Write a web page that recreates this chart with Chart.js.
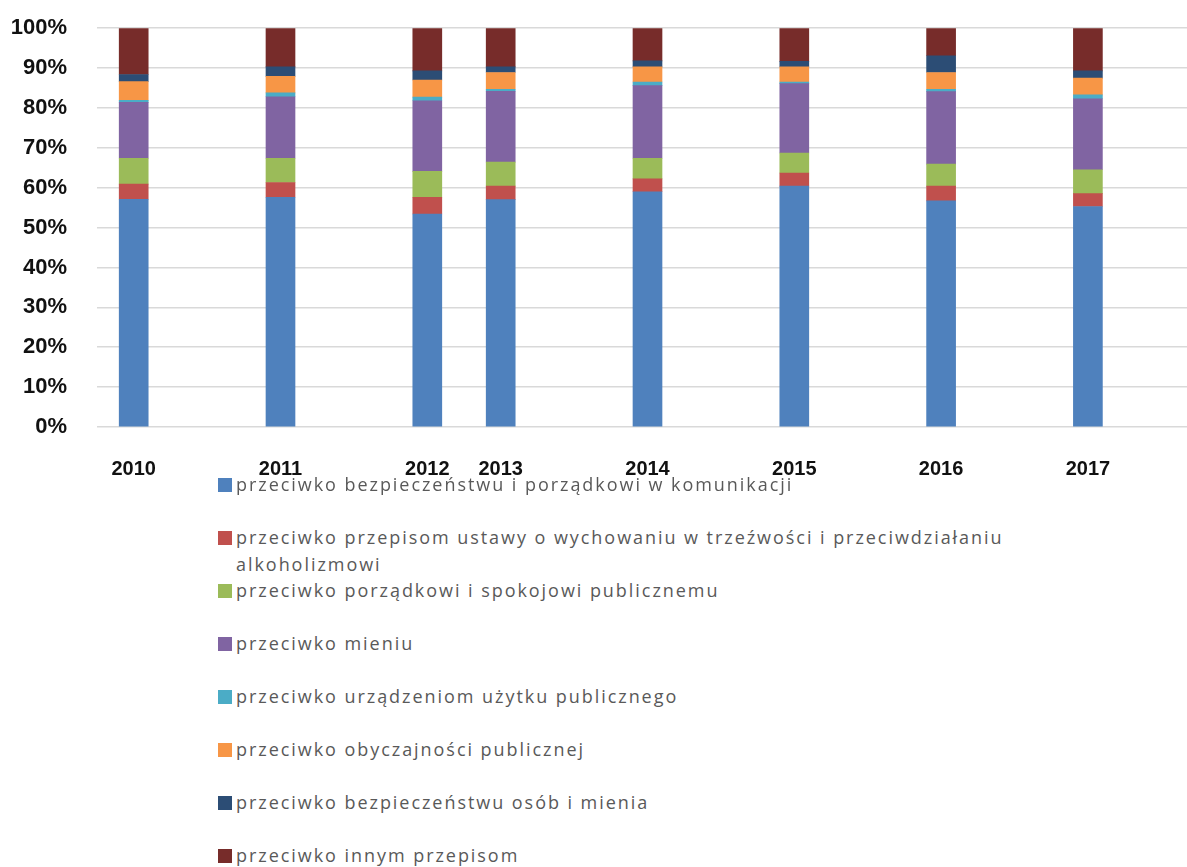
<!DOCTYPE html>
<html>
<head>
<meta charset="utf-8">
<script src="https://cdn.jsdelivr.net/npm/chart.js@4.4.1/dist/chart.umd.min.js"></script>
<style>
  html, body { margin: 0; padding: 0; background: #fff; overflow: hidden; }
  #wrap { position: relative; width: 1187px; height: 867px; overflow: hidden; }
  #box { position: absolute; left: 0; top: -15px; width: 1198px; height: 500px; }
  #legend { position: absolute; left: 0; top: 0; }
  .item { position: absolute; left: 218px; width: 820px; font-family: "Open Sans", sans-serif;
          font-size: 18px; line-height: 27px; color: #595959; letter-spacing: 1.95px; }
  .sw { position: absolute; left: 0; top: 7px; width: 14px; height: 14px; }
  .tx { margin-left: 18px; }
</style>
</head>
<body>
<div id="wrap">
  <div id="box"><canvas id="c"></canvas></div>
  <div id="legend"></div>
</div>
<script>
// tick labels on the x axis; empty ones are the gaps between years
var xLabels = ['2010', '', '2011', '', '2012', '2013', '', '2014', '', '2015', '', '2016', '', '2017', ''];

var seriesNames = [
    'przeciwko bezpieczeństwu i porządkowi w komunikacji',
    'przeciwko przepisom ustawy  o wychowaniu w trzeźwości i przeciwdziałaniu alkoholizmowi',
    'przeciwko porządkowi i spokojowi publicznemu',
    'przeciwko mieniu',
    'przeciwko urządzeniom użytku publicznego',
    'przeciwko obyczajności publicznej',
    'przeciwko bezpieczeństwu osób i mienia',
    'przeciwko innym przepisom'
];
var seriesColors = ['#4F81BD', '#C0504D', '#9BBB59', '#8064A2', '#4BACC6', '#F79646', '#2C4D75', '#772C2A'];

// percent shares, 2010..2017
var komunikacja = [57.1, 57.6, 53.4, 57.0, 59.0, 60.4, 56.7, 55.3];
var trzezwosc   = [3.8, 3.7, 4.2, 3.4, 3.2, 3.3, 3.7, 3.2];
var porzadek    = [6.5, 6.1, 6.5, 6.0, 5.2, 5.0, 5.5, 6.0];
var mienie      = [14.0, 15.4, 17.7, 17.8, 18.2, 17.4, 18.2, 17.8];
var urzadzenia  = [0.5, 1.0, 0.9, 0.5, 0.9, 0.4, 0.6, 1.0];
var obyczajnosc = [4.7, 4.1, 4.3, 4.2, 3.8, 3.8, 4.2, 4.2];
var osobyMienie = [1.8, 2.4, 2.3, 1.4, 1.5, 1.4, 4.2, 1.8];
var inne        = [11.6, 9.7, 10.7, 9.7, 8.2, 8.3, 6.9, 10.7];

var yTicks = [0, 10, 20, 30, 40, 50, 60, 70, 80, 90, 100];

var allSeries = [komunikacja, trzezwosc, porzadek, mienie, urzadzenia, obyczajnosc, osobyMienie, inne];

function spread(values) {
    var k = 0;
    return xLabels.map(function(l) { return l === '' ? null : values[k++]; });
}

var datasets = allSeries.map(function(vals, i) {
    return {
        label: seriesNames[i],
        data: spread(vals),
        backgroundColor: seriesColors[i],
        borderWidth: 0,
        barThickness: 29
    };
});

new Chart(document.getElementById('c'), {
    type: 'bar',
    data: { labels: xLabels, datasets: datasets },
    options: {
        responsive: true,
        maintainAspectRatio: false,
        animation: false,
        layout: { padding: { top: 12, left: 0, right: 0, bottom: 0 } },
        plugins: { legend: { display: false }, tooltip: { enabled: false } },
        scales: {
            x: {
                stacked: true,
                grid: { display: false },
                border: { display: false },
                ticks: {
                    autoSkip: false, maxRotation: 0, padding: 22, color: '#111',
                    font: { family: 'Liberation Sans', size: 20, weight: 'bold' }
                },
                afterFit: function(s) { s.height = 58; }
            },
            y: {
                stacked: true,
                min: 0, max: 100,
                afterBuildTicks: function(s) { s.ticks = yTicks.map(function(v) { return { value: v }; }); },
                grid: { color: '#d9d9d9', lineWidth: 1.5, drawTicks: false },
                border: { display: false },
                ticks: {
                    padding: 30, color: '#111',
                    font: { family: 'Liberation Sans', size: 22, weight: 'bold' },
                    callback: function(v) { return v + '%'; }
                },
                afterFit: function(s) { s.width = 97; }
            }
        }
    }
});

// legend, one entry per series
var legend = document.getElementById('legend');
seriesNames.forEach(function(name, i) {
    var d = document.createElement('div');
    d.className = 'item';
    d.style.top = (484 - 13.5 + i * 53.1) + 'px';
    d.innerHTML = '<span class="sw" style="background:' + seriesColors[i] + '"></span><div class="tx"></div>';
    d.querySelector('.tx').textContent = name;
    legend.appendChild(d);
});
</script>
</body>
</html>
